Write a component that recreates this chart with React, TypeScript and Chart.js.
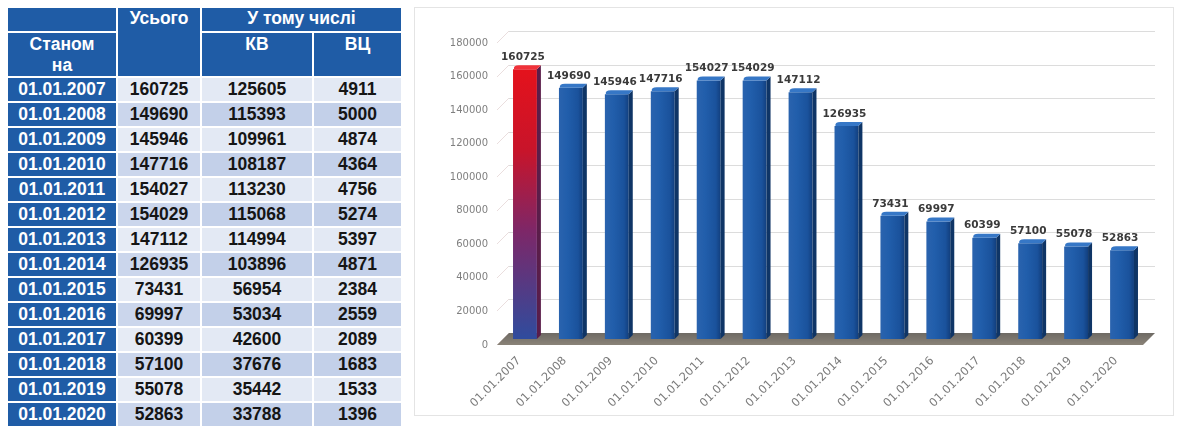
import React, { useEffect, useRef } from "react";
import { Chart, registerables } from "chart.js";

Chart.register(...registerables);

const dates = [
  "01.01.2007", "01.01.2008", "01.01.2009", "01.01.2010", "01.01.2011",
  "01.01.2012", "01.01.2013", "01.01.2014", "01.01.2015", "01.01.2016",
  "01.01.2017", "01.01.2018", "01.01.2019", "01.01.2020",
];
const totals = [160725, 149690, 145946, 147716, 154027, 154029, 147112, 126935, 73431, 69997, 60399, 57100, 55078, 52863];
const kv = [125605, 115393, 109961, 108187, 113230, 115068, 114994, 103896, 56954, 53034, 42600, 37676, 35442, 33788];
const vc = [4911, 5000, 4874, 4364, 4756, 5274, 5397, 4871, 2384, 2559, 2089, 1683, 1533, 1396];
const headTotal = "Усього";
const headIncl = "У тому числі";
const headDate = ["Станом", "на"];
const headKV = "КВ";
const headVC = "ВЦ";
const yTicks = [0, 20000, 40000, 60000, 80000, 100000, 120000, 140000, 160000, 180000];

const DY = 12; // 3D depth offset y (half toward back, half toward front)
const BAR_PCT = 0.52;

const scene3d = {
  id: "scene3d",
  beforeDatasetsDraw(chart: any) {
    const { ctx, chartArea } = chart;
    const y = chart.scales.y;
    const { left, right } = chartArea;
    const h = DY / 2;
    ctx.save();
    ctx.lineWidth = 1;
    yTicks.forEach((v) => {
      const py = Math.round(y.getPixelForValue(v));
      if (v > 0) {
        ctx.strokeStyle = "#dcdcdc";
        ctx.beginPath();
        ctx.moveTo(left + 7, py - h + 0.5);
        ctx.lineTo(right + 10, py - h + 0.5);
        ctx.stroke();
      }
      ctx.strokeStyle = "#eadede";
      ctx.beginPath();
      ctx.moveTo(left - 5, py + h);
      ctx.lineTo(left + 7, py - h);
      ctx.stroke();
    });
    const y0 = y.getPixelForValue(0);
    const g = ctx.createLinearGradient(0, y0 - h, 0, y0 + h);
    g.addColorStop(0, "#6e6a64");
    g.addColorStop(1, "#8a8378");
    ctx.fillStyle = g;
    ctx.beginPath();
    ctx.moveTo(left - 5, y0 + h);
    ctx.lineTo(left + 7, y0 - h);
    ctx.lineTo(right + 10, y0 - h);
    ctx.lineTo(right - 2, y0 + h);
    ctx.closePath();
    ctx.fill();
    ctx.restore();
  },
  afterDatasetsDraw(chart: any) {
    const { ctx } = chart;
    const meta = chart.getDatasetMeta(0);
    ctx.save();
    meta.data.forEach((bar: any, i: number) => {
      const { x, y, width, base } = bar.getProps(["x", "y", "width", "base"], true);
      const l = x - width / 2;
      const r = x + width / 2;
      const d = 4;
      const red = i === 0;
      ctx.fillStyle = red ? "#5a1d4a" : "#0f3566";
      ctx.beginPath();
      ctx.moveTo(r, y);
      ctx.lineTo(r + d, y - d);
      ctx.lineTo(r + d, base - d);
      ctx.lineTo(r, base);
      ctx.closePath();
      ctx.fill();
      ctx.fillStyle = red ? "#f0323a" : "#3677c6";
      ctx.beginPath();
      ctx.moveTo(l + 1, y);
      ctx.lineTo(r, y);
      ctx.lineTo(r + d, y - d);
      ctx.lineTo(l + d + 2, y - d);
      ctx.quadraticCurveTo(l, y - d, l + 1, y);
      ctx.closePath();
      ctx.fill();
    });
    ctx.fillStyle = "#3a3a3a";
    ctx.font = "bold 10.5px 'DejaVu Sans'";
    ctx.textAlign = "center";
    ctx.textBaseline = "middle";
    meta.data.forEach((bar: any, i: number) => {
      const { x, y } = bar.getProps(["x", "y"], true);
      ctx.fillText(String(totals[i]), x - 2, y - 12);
    });
    ctx.restore();
  },
};

function fillFor(c: any) {
  const ch = c.chart;
  const xs = ch.scales && ch.scales.x;
  const ys = ch.scales && ch.scales.y;
  if (!ch.chartArea || !xs || !ys) return "#1f5fae";
  const cx = xs.getPixelForValue(c.dataIndex);
  const top = ys.getPixelForValue(totals[c.dataIndex]);
  const base = ys.getPixelForValue(0);
  const w = (ch.chartArea.width / dates.length) * BAR_PCT;
  if (![cx, top, base, w].every((v) => Number.isFinite(v))) return "#1f5fae";
  const { ctx } = ch;
  if (c.dataIndex === 0) {
    const g = ctx.createLinearGradient(0, top, 0, base);
    g.addColorStop(0, "#e4121c");
    g.addColorStop(0.3, "#c8142a");
    g.addColorStop(0.6, "#7d2768");
    g.addColorStop(1, "#2f4c9e");
    return g;
  }
  const l = cx - w / 2;
  const g = ctx.createLinearGradient(l, 0, l + w, 0);
  g.addColorStop(0, "#2a63ae");
  g.addColorStop(0.35, "#215eab");
  g.addColorStop(0.8, "#1a529c");
  g.addColorStop(1, "#123f7e");
  return g;
}

function BarChart() {
  const ref = useRef<HTMLCanvasElement>(null);
  useEffect(() => {
    if (!ref.current) return;
    const chart = new Chart(ref.current, {
      type: "bar",
      data: {
        labels: dates,
        datasets: [
          {
            data: totals,
            barPercentage: BAR_PCT,
            categoryPercentage: 1,
            borderWidth: 0,
            backgroundColor: fillFor,
          },
        ],
      },
      options: {
        animation: false,
        responsive: false,
        maintainAspectRatio: false,
        layout: { padding: { left: 0, right: 28, top: 29, bottom: 0 } },
        plugins: { legend: { display: false }, tooltip: { enabled: false } },
        scales: {
          x: {
            grid: { display: false, drawTicks: false },
            border: { display: false },
            afterFit: (s: any) => { s.height = 76; },
            ticks: {
              color: "#7a7a7a",
              font: { family: "'DejaVu Sans'", size: 11.5 },
              minRotation: 45,
              maxRotation: 45,
              padding: 15,
              labelOffset: -6,
              autoSkip: false,
            },
          },
          y: {
            min: 0,
            max: 180000,
            grid: { display: false, drawTicks: false },
            border: { display: false },
            afterFit: (s: any) => { s.width = 87; },
            afterBuildTicks: (s: any) => { s.ticks = yTicks.map((v) => ({ value: v })); },
            ticks: {
              color: "#7f7f7f",
              font: { family: "'DejaVu Sans'", size: 10 },
              padding: 14,
              labelOffset: 6,
              callback: (v: any) => String(v),
            },
          },
        },
      },
      plugins: [scene3d],
    });
    return () => chart.destroy();
  }, []);
  return <canvas ref={ref} width={758} height={407} style={{ display: "block", width: 758, height: 407 }} />;
}

const cellBorder = "2px solid #ffffff";
const headBg = "#1f5ca6";

function DataTable() {
  const th: React.CSSProperties = {
    background: headBg,
    color: "#ffffff",
    fontWeight: "bold",
    border: cellBorder,
    padding: 0,
    textAlign: "center",
    verticalAlign: "top",
    lineHeight: "21px",
  };
  return (
    <table
      style={{
        position: "absolute",
        left: 6,
        top: 6,
        borderCollapse: "collapse",
        tableLayout: "fixed",
        fontFamily: "'Liberation Sans', Arial, sans-serif",
        fontSize: 17.5,
      }}
    >
      <colgroup>
        <col style={{ width: 110 }} />
        <col style={{ width: 84 }} />
        <col style={{ width: 112 }} />
        <col style={{ width: 89 }} />
      </colgroup>
      <thead>
        <tr style={{ height: 25 }}>
          <th style={th}></th>
          <th style={th} rowSpan={2}>{headTotal}</th>
          <th style={th} colSpan={2}>{headIncl}</th>
        </tr>
        <tr style={{ height: 44 }}>
          <th style={{ ...th, paddingTop: 1 }}>
            {headDate[0]}
            <br />
            {headDate[1]}
          </th>
          <th style={{ ...th, paddingTop: 1 }}>{headKV}</th>
          <th style={{ ...th, paddingTop: 1 }}>{headVC}</th>
        </tr>
      </thead>
      <tbody>
        {dates.map((d, i) => {
          const even = i % 2 === 1;
          const bg = even ? "#c3d0e9" : "#e3e9f4";
          const bg1 = even ? "#cbd6ec" : "#e6ebf5";
          const td: React.CSSProperties = {
            border: cellBorder,
            padding: 0,
            height: 21,
            lineHeight: "21px",
            fontWeight: "bold",
            textAlign: "center",
            color: "#151515",
            background: bg,
          };
          return (
            <tr key={d} style={{ height: 25 }}>
              <td style={{ ...td, background: headBg, color: "#ffffff" }}>{d}</td>
              <td style={{ ...td, background: bg1 }}>{totals[i]}</td>
              <td style={td}>{kv[i]}</td>
              <td style={td}>{vc[i]}</td>
            </tr>
          );
        })}
      </tbody>
    </table>
  );
}

export default function App() {
  useEffect(() => {
    document.body.style.margin = "0";
    document.body.style.background = "#ffffff";
  }, []);
  return (
    <div style={{ position: "relative", width: 1180, height: 426, overflow: "hidden", background: "#ffffff" }}>
      <DataTable />
      <div
        style={{
          position: "absolute",
          left: 414,
          top: 7,
          width: 758,
          height: 407,
          border: "1px solid #e4e4e4",
          background: "#ffffff",
        }}
      >
        <BarChart />
      </div>
    </div>
  );
}
